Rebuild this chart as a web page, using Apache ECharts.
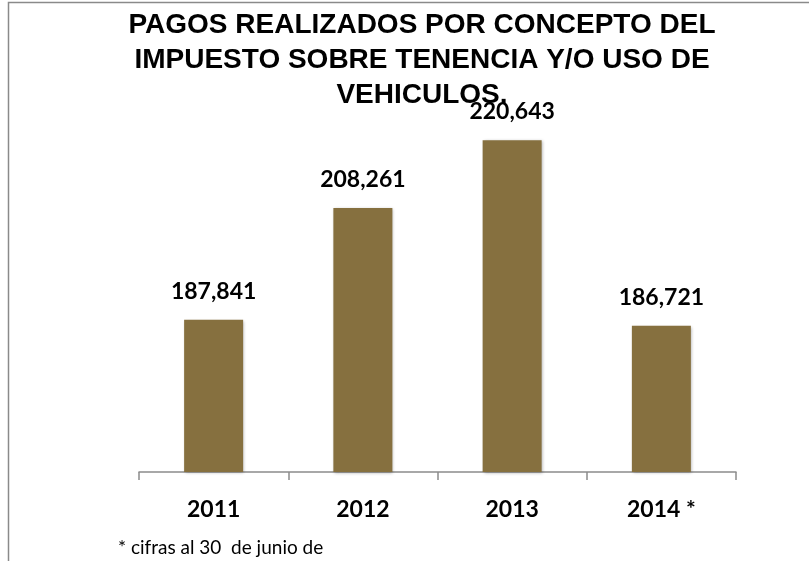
<!DOCTYPE html>
<html>
<head>
<meta charset="utf-8">
<script src="https://cdn.jsdelivr.net/npm/echarts@6/dist/echarts.min.js"></script>
<style>
  html, body { margin: 0; padding: 0; background: #fff; }
  #chart { width: 809px; height: 561px; }
</style>
</head>
<body>
<div id="chart"></div>
<script>
  // datos
  var years = ['2011', '2012', '2013', '2014 *'];
  var pagos = [187841, 208261, 220643, 186721];

  var chart = echarts.init(document.getElementById('chart'));

  var option = {
    animation: false,
    title: {
      text: 'PAGOS REALIZADOS POR CONCEPTO DEL\nIMPUESTO SOBRE TENENCIA Y/O USO DE\nVEHICULOS.',
      left: 417,
      top: 3,
      textAlign: 'center',
      textStyle: {
        fontFamily: 'Liberation Sans',
        fontWeight: 'bold',
        fontSize: 28,
        lineHeight: 35,
        color: '#000'
      }
    },
    grid: {
      left: 139,
      right: 73,
      top: 34.5,
      bottom: 89
    },
    xAxis: {
      type: 'category',
      data: years,
      axisLine: { lineStyle: { color: '#8c8c8c', width: 1.5 } },
      axisTick: { show: true, length: 8, interval: 0, lineStyle: { color: '#8c8c8c', width: 1.5 } },
      axisLabel: {
        margin: 26,
        fontFamily: 'Lato',
        fontWeight: 'bold',
        fontSize: 23,
        color: '#000'
      }
    },
    yAxis: {
      type: 'value',
      show: false,
      min: 160000,
      max: 240000,
      splitLine: { show: false }
    },
    series: [{
      type: 'bar',
      data: pagos,
      barWidth: 59,
      itemStyle: {
        color: '#86703f',
        shadowColor: 'rgba(0,0,0,0.3)',
        shadowBlur: 3,
        shadowOffsetX: 1,
        shadowOffsetY: 1
      },
      label: {
        show: true,
        position: 'top',
        distance: 17,
        fontFamily: 'Lato',
        fontWeight: 'bold',
        fontSize: 23,
        color: '#000',
        formatter: function (p) {
          return p.value.toLocaleString('en-US');
        }
      }
    }],
    graphic: [
      {
        type: 'rect',
        shape: { x: 8.5, y: 2.5, width: 900, height: 700 },
        style: { fill: 'none', stroke: '#8a8a8a', lineWidth: 1.5 },
        z: -1
      },
      {
        type: 'text',
        left: 118,
        top: 538,
        style: {
          text: '* cifras al 30  de junio de',
          font: '19px Lato',
          fill: '#000'
        }
      }
    ]
  };

  chart.setOption(option);
</script>
</body>
</html>
